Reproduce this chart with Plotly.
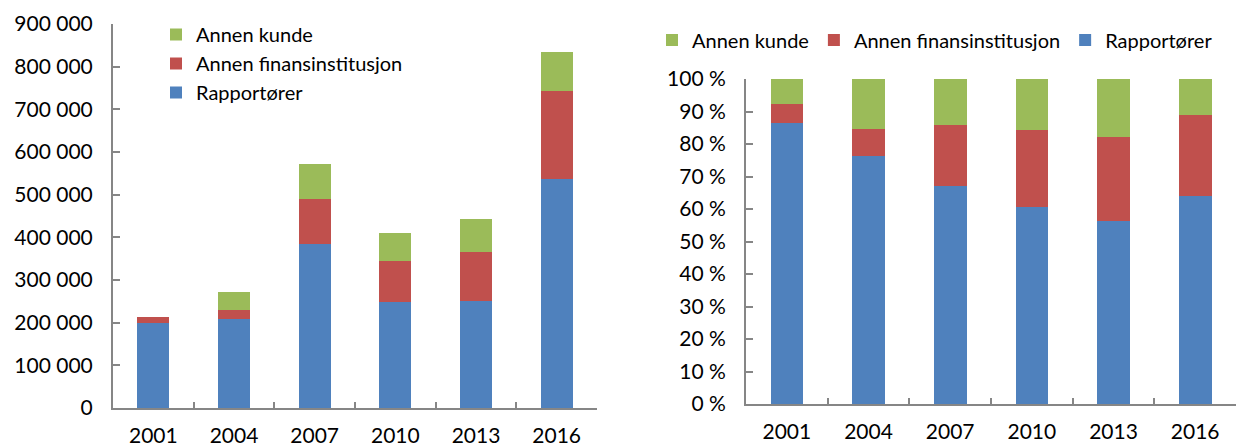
import plotly.graph_objects as go

years = ["2001", "2004", "2007", "2010", "2013", "2016"]

# Left chart: absolute numbers (stacked)
rapportorer = [199000, 208000, 384000, 248000, 250000, 536000]
annen_fin = [14000, 22000, 107000, 97000, 115000, 208000]
annen_kunde = [0, 43000, 81000, 64000, 78000, 91000]

# Right chart: shares in percent (stacked to 100)
rapp_pct = [86.4, 76.3, 67.2, 60.7, 56.4, 64.1]
fin_pct = [5.9, 8.3, 18.5, 23.7, 25.9, 24.8]
kunde_pct = [7.7, 15.4, 14.3, 15.6, 17.7, 11.1]

left_ticks = [0, 100000, 200000, 300000, 400000, 500000, 600000, 700000, 800000, 900000]
left_ticktext = ["0", "100 000", "200 000", "300 000", "400 000", "500 000",
                 "600 000", "700 000", "800 000", "900 000"]
right_ticks = [0, 10, 20, 30, 40, 50, 60, 70, 80, 90, 100]
right_ticktext = [f"{v} %" for v in right_ticks]

BLUE = "#4F81BD"
RED = "#C0504D"
GREEN = "#9BBB59"
FONT = "Lato"

fig = go.Figure()

series_left = [("Rapportører", rapportorer, BLUE),
               ("Annen finansinstitusjon", annen_fin, RED),
               ("Annen kunde", annen_kunde, GREEN)]
for name, vals, col in series_left:
    fig.add_trace(go.Bar(x=years, y=vals, name=name, marker_color=col,
                         marker_line_width=0, xaxis="x", yaxis="y",
                         legend="legend"))

series_right = [("Rapportører", rapp_pct, BLUE),
                ("Annen finansinstitusjon", fin_pct, RED),
                ("Annen kunde", kunde_pct, GREEN)]
for name, vals, col in series_right:
    fig.add_trace(go.Bar(x=years, y=vals, name=name, marker_color=col,
                         marker_line_width=0, xaxis="x2", yaxis="y2",
                         legend="legend2"))

W, H = 1252, 448
axis_col = "#868686"

common_x = dict(type="category", showline=True, linecolor=axis_col, linewidth=2,
                ticks="inside", tickson="boundaries", ticklen=6, tickcolor=axis_col,
                tickwidth=1.5, showgrid=False, zeroline=False, automargin=False,
                tickfont=dict(family=FONT, size=21, color="#000"),
                ticklabelstandoff=8)
common_y = dict(showline=True, linecolor=axis_col, linewidth=2, ticks="inside",
                ticklen=7, tickcolor=axis_col, tickwidth=1.5, showgrid=False,
                zeroline=False, automargin=False,
                tickfont=dict(family=FONT, size=21, color="#000"),
                ticklabelstandoff=14)

fig.update_layout(
    width=W, height=H,
    margin=dict(l=0, r=0, t=0, b=0, autoexpand=False),
    paper_bgcolor="white", plot_bgcolor="white",
    barmode="stack", bargap=0.6,
    font=dict(family=FONT, size=21, color="#000"),
    xaxis=dict(domain=[113 / W, 597 / W], anchor="y", **common_x),
    yaxis=dict(domain=[(H - 408) / H, (H - 24) / H], anchor="x",
               range=[0, 900000], tickvals=left_ticks, ticktext=left_ticktext,
               **common_y),
    xaxis2=dict(domain=[746 / W, 1236 / W], anchor="y2", **common_x),
    yaxis2=dict(domain=[(H - 404) / H, (H - 79) / H], anchor="x2",
                range=[0, 100], tickvals=right_ticks, ticktext=right_ticktext,
                **common_y),
    legend=dict(x=156 / W, y=1 - 15 / H, xanchor="left", yanchor="top",
                orientation="v", traceorder="reversed",
                font=dict(family=FONT, size=20, color="#000"),
                bgcolor="rgba(0,0,0,0)", tracegroupgap=0, itemwidth=30),
    legend2=dict(x=652 / W, y=1 - 40 / H, xanchor="left", yanchor="middle",
                 orientation="h", traceorder="reversed",
                 font=dict(family=FONT, size=20, color="#000"),
                 bgcolor="rgba(0,0,0,0)", itemwidth=30),
)

fig.write_html(
    "out.html",
    config={"displayModeBar": False},
    post_script="document.body.style.margin='0';document.body.style.padding='0';"
                "document.body.style.overflow='hidden';",
)
